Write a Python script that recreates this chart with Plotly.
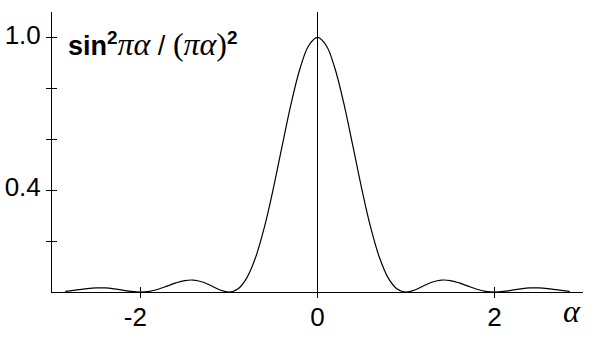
import plotly.graph_objects as go

# Curve samples
alpha = [-2.85, -2.8, -2.7, -2.6, -2.5, -2.4, -2.3, -2.2, -2.1, -2.0,
         -1.9, -1.8, -1.7, -1.6, -1.5, -1.4, -1.3, -1.2, -1.1, -1.0,
         -0.9, -0.8, -0.7, -0.6, -0.5, -0.4, -0.3, -0.2, -0.1, 0.0,
         0.1, 0.2, 0.3, 0.4, 0.5, 0.6, 0.7, 0.8, 0.9, 1.0,
         1.1, 1.2, 1.3, 1.4, 1.5, 1.6, 1.7, 1.8, 1.9, 2.0,
         2.1, 2.2, 2.3, 2.4, 2.5, 2.6, 2.7, 2.8, 2.85]
intensity = [0.0026, 0.0045, 0.0091, 0.0136, 0.0162, 0.0159, 0.0125, 0.0072, 0.0022, 0.0,
             0.0027, 0.0108, 0.0230, 0.0358, 0.0450, 0.0468, 0.0392, 0.0243, 0.0080, 0.0,
             0.0119, 0.0547, 0.1353, 0.2546, 0.4053, 0.5728, 0.7368, 0.8751, 0.9675, 1.0,
             0.9675, 0.8751, 0.7368, 0.5728, 0.4053, 0.2546, 0.1353, 0.0547, 0.0119, 0.0,
             0.0080, 0.0243, 0.0392, 0.0468, 0.0450, 0.0358, 0.0230, 0.0108, 0.0027, 0.0,
             0.0022, 0.0072, 0.0125, 0.0159, 0.0162, 0.0136, 0.0091, 0.0045, 0.0026]

x_tickvals = [-2, 0, 2]
x_ticktext = ["-2\u2009\u2009", "0", "2"]
y_tickvals = [0.2, 0.4, 0.6, 0.8, 1.0]
y_ticktext = ["", "0.4", "", "", "1.0"]

SERIF = "font-family:\"Liberation Serif\", \"Times New Roman\", serif; font-size:32px"
curve_label = ("<b>sin</b><sup><b>2</b></sup>"
               f"<span style='{SERIF}'><i>πα</i></span>"
               "<span style='font-size:27px'> / </span>"
               f"<span style='{SERIF}'>(<i>πα</i>)</span><sup><b>2</b></sup>")
x_label = "α"

tick_font = dict(family="Liberation Sans, Arial", size=26, color="black")
XR = [-3, 3]
YR = [0, 1.1]

fig = go.Figure()
fig.add_trace(go.Scatter(x=alpha, y=intensity, mode="lines", line_shape="spline",
                         line=dict(color="black", width=1.2), showlegend=False,
                         hoverinfo="skip"))
# invisible traces on overlay axes (tick marks crossing the axis lines)
for xa, ya in (("x2", "y2"), ("x3", "y3")):
    fig.add_trace(go.Scatter(x=[alpha[0]], y=[intensity[0]], xaxis=xa, yaxis=ya,
                             mode="markers", marker=dict(opacity=0), showlegend=False,
                             hoverinfo="skip"))

tick_axis = dict(ticklen=5, tickcolor="black", tickwidth=1, showticklabels=False,
                 showline=False, showgrid=False, zeroline=False, automargin=False)

fig.update_layout(
    template="none",
    width=615, height=362,
    margin=dict(l=52, r=32, t=12, b=70),
    paper_bgcolor="white", plot_bgcolor="white",
    xaxis=dict(range=XR, tickvals=x_tickvals, ticktext=x_ticktext, ticks="",
               showline=True, linecolor="black", linewidth=1,
               showgrid=False, zeroline=True, zerolinecolor="black", zerolinewidth=1,
               tickfont=tick_font, ticklabelstandoff=2, automargin=False),
    yaxis=dict(range=YR, tickvals=y_tickvals, ticktext=y_ticktext, ticks="",
               showline=True, linecolor="black", linewidth=1,
               showgrid=False, zeroline=False, tickfont=tick_font,
               ticklabelstandoff=5, ticklabelshift=-3, automargin=False),
    xaxis2=dict(range=XR, overlaying="x", anchor="y2", tickvals=x_tickvals,
                ticks="outside", **tick_axis),
    yaxis2=dict(range=YR, overlaying="y", anchor="x2", side="left",
                tickvals=y_tickvals, ticks="outside", **tick_axis),
    xaxis3=dict(range=XR, overlaying="x", anchor="y3", tickvals=x_tickvals,
                ticks="inside", **tick_axis),
    yaxis3=dict(range=YR, overlaying="y", anchor="x3", side="left",
                tickvals=y_tickvals, ticks="inside", **tick_axis),
    annotations=[
        dict(text=curve_label, xref="paper", yref="y", x=0.026, y=0.974,
             xanchor="left", yanchor="middle", showarrow=False,
             font=dict(family="Liberation Sans, Arial", size=27, color="black")),
        dict(text="<i>" + x_label + "</i>", xref="x", yref="paper", x=2.88, y=0,
             xanchor="center", yanchor="middle", yshift=-19, showarrow=False,
             font=dict(family="Liberation Serif, Times New Roman", size=32, color="black")),
    ],
)

fig.write_html("out.html")
